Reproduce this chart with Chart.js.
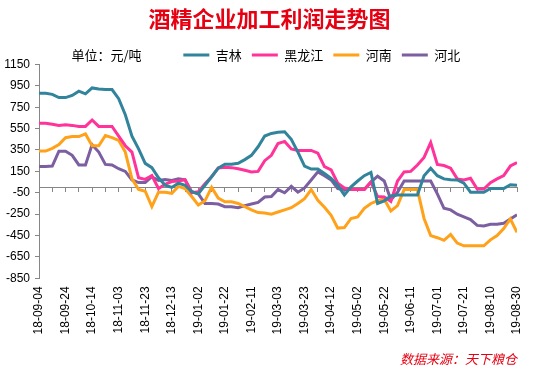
<!DOCTYPE html>
<html>
<head>
<meta charset="utf-8">
<title>酒精企业加工利润走势图</title>
<script src="https://cdn.jsdelivr.net/npm/chart.js@4/dist/chart.umd.min.js"></script>
<style>
    html, body { margin: 0; padding: 0; background: #fff; }
</style>
</head>
<body>
<canvas id="profitChart" width="546" height="369"></canvas>
<script>
// day offsets from 18-09-04 (sampled every 5 days)
const days = [0, 5, 10, 15, 20, 25, 30, 35, 40, 45, 50, 55, 60, 65, 70, 75, 80, 85, 90, 95,
    100, 105, 110, 115, 120, 125, 130, 135, 140, 145, 150, 155, 160, 165, 170, 175, 180, 185, 190, 195,
    200, 205, 210, 215, 220, 225, 230, 235, 240, 245, 250, 255, 260, 265, 270, 275, 280, 285, 290, 295,
    300, 305, 310, 315, 320, 325, 330, 335, 340, 345, 350, 355, 360]

const tickLabels = ['18-09-04', '18-09-24', '18-10-14', '18-11-03', '18-11-23', '18-12-13', '19-01-02',
    '19-01-22', '19-02-11', '19-03-03', '19-03-23', '19-04-12', '19-05-02', '19-05-22', '19-06-11',
    '19-07-01', '19-07-21', '19-08-10', '19-08-30']

const seriesNames = ['吉林', '黑龙江', '河南', '河北']

const jilin = [880, 880, 870, 840, 840, 860, 900, 875, 930, 920,
    915, 915, 830, 680, 480, 360, 225, 185, 90, 20,
    0, 40, 20, -40, -60, 20, 100, 180, 216, 216,
    225, 260, 300, 380, 480, 505, 515, 520, 450, 330,
    200, 172, 172, 130, 85, 20, -70, 5, 60, 110,
    140, -150, -125, -80, -70, -70, -70, -70, 110, 180,
    110, 80, 72, 70, 40, -45, -45, -45, -10, -10,
    -10, 25, 20]

const heilongjiang = [600, 600, 590, 580, 585, 580, 570, 570, 630, 570,
    570, 570, 480, 390, 330, 90, 75, 110, -10, 30,
    55, 60, 72, -50, -40, 35, 100, 182, 188, 185,
    175, 160, 145, 150, 250, 300, 410, 430, 360, 346,
    346, 346, 320, 195, 165, 40, -5, -20, -20, -20,
    50, -85, -90, -130, 60, 145, 150, 210, 280, 420,
    215, 205, 180, 80, 70, 85, -15, -15, 45, 80,
    110, 200, 232]

const henan = [340, 340, 365, 400, 465, 475, 475, 500, 390, 390,
    485, 465, 440, 330, 80, -20, -36, -180, -45, -45,
    -55, 10, -10, -85, -165, -125, 0, -100, -135, -135,
    -150, -180, -210, -235, -240, -250, -230, -210, -190, -150,
    -105, -20, -120, -185, -260, -380, -375, -290, -275, -195,
    -150, -125, -110, -220, -170, -20, -20, -20, -290, -450,
    -470, -495, -440, -520, -546, -546, -546, -546, -490, -450,
    -385, -295, -420]

const hebei = [195, 195, 200, 339, 339, 300, 210, 210, 400, 330,
    215, 210, 175, 150, 70, 45, 45, 100, 65, 75,
    65, 80, 70, -40, -60, -150, -150, -155, -180, -180,
    -190, -170, -155, -140, -90, -85, -20, -50, 10, -45,
    -5, 70, 145, 110, 70, -10, -20, -20, -20, -20,
    50, 105, 60, -115, -45, 60, 60, 60, 60, 60,
    -60, -195, -210, -250, -275, -300, -355, -360, -345, -345,
    -335, -295, -255]

const seriesValues = [jilin, heilongjiang, henan, hebei]
const seriesColors = ['#31849B', '#FF3399', '#FFA21A', '#7B5FA0']

const axisGray = '#868686'
const cjkFont = "'Noto Sans CJK SC', sans-serif"
const numFont = "'Liberation Sans', Arial, sans-serif"

// pull the chart area up under the legend (legend adds a fixed 10px below itself)
const legendGap = {
    id: 'legendGap',
    beforeInit(chart) {
        const fitLegend = chart.legend.fit
        chart.legend.fit = function () {
            fitLegend.bind(chart.legend)()
            this.height -= 7
        }
    }
}

const chartData = {
    datasets: seriesNames.map((name, k) => ({
        label: name,
        data: days.map((d, i) => ({ x: d, y: seriesValues[k][i] })),
        borderColor: seriesColors[k],
        backgroundColor: seriesColors[k],
        borderWidth: 3,
        pointRadius: 0,
        tension: 0,
        fill: false,
        xAxisID: 'x',
        yAxisID: 'y'
    }))
}

const chartOptions = {
    responsive: false,
    devicePixelRatio: 1,
    animation: false,
    layout: { padding: { left: 0, right: 29, top: 0, bottom: 0 } },
    plugins: {
        title: {
            display: true,
            // leading full-width space nudges the title right like the original
            text: '\u3000酒精企业加工利润走势图',
            color: '#E60012',
            font: { family: cjkFont, size: 22, weight: 'bold' },
            padding: { top: 5, bottom: 7 }
        },
        subtitle: {
            display: true,
            text: '数据来源：天下粮仓',
            position: 'bottom',
            align: 'end',
            color: '#E60012',
            font: { family: cjkFont, size: 13, style: 'italic' },
            padding: { top: 9, bottom: 2 }
        },
        legend: {
            position: 'top',
            align: 'start',
            labels: {
                usePointStyle: true,
                pointStyle: 'line',
                pointStyleWidth: 26,
                boxHeight: 13,
                padding: 10,
                color: '#000',
                font: { family: cjkFont, size: 13 },
                generateLabels(chart) {
                    const items = Chart.defaults.plugins.legend.labels.generateLabels(chart)
                    items.unshift({
                        text: '\u3000\u3000 单位：元/吨\u3000\u3000  ',
                        fillStyle: 'rgba(0,0,0,0)',
                        strokeStyle: 'rgba(0,0,0,0)',
                        lineWidth: 0,
                        pointStyle: 'line',
                        hidden: false,
                        datasetIndex: null
                    })
                    return items
                }
            }
        },
        tooltip: { enabled: false }
    },
    scales: {
        x: {
            type: 'linear',
            min: 0,
            max: 360,
            border: { display: false },
            grid: { display: false, drawTicks: false },
            ticks: {
                stepSize: 20,
                autoSkip: false,
                minRotation: 90,
                maxRotation: 90,
                padding: 8,
                color: '#000',
                font: { family: numFont, size: 12 },
                callback: (value, index) => tickLabels[index]
            }
        },
        // zero line with small tick marks
        x2: {
            type: 'linear',
            axis: 'x',
            position: { y: 0 },
            min: 0,
            max: 360,
            border: { display: true, color: axisGray, width: 1 },
            grid: { drawOnChartArea: false, drawTicks: true, tickLength: 4, color: axisGray },
            ticks: { display: false, stepSize: 10 }
        },
        y: {
            min: -850,
            max: 1150,
            border: { display: true, color: axisGray, width: 1 },
            grid: { drawOnChartArea: false, drawTicks: true, tickLength: 4, color: axisGray },
            ticks: {
                stepSize: 200,
                padding: 5,
                color: '#000',
                font: { family: numFont, size: 12 },
                callback: (v) => String(Math.round(v))
            },
            afterFit(scale) {
                scale.width = 39
            }
        }
    }
}

const profitChart = new Chart(document.getElementById('profitChart'), {
    type: 'line',
    data: chartData,
    options: chartOptions,
    plugins: [legendGap]
})
</script>
</body>
</html>
